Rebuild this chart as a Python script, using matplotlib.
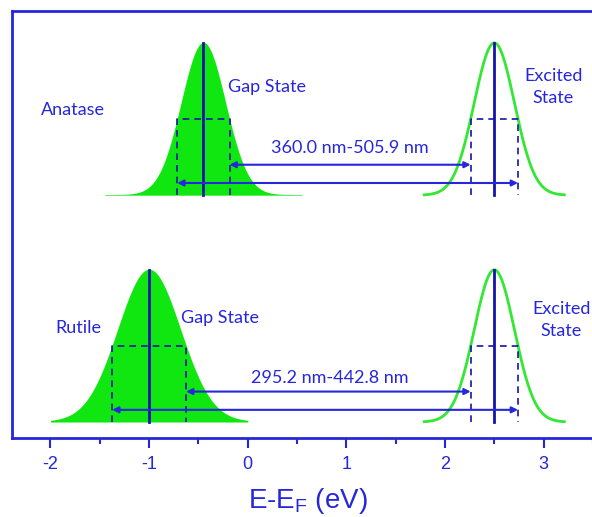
import numpy as np
import matplotlib.pyplot as plt

# ---------------- data ----------------
phases = ['Anatase', 'Rutile']
baselines = [1.49, 0.0]          # vertical offset of each panel
gap_centers = [-0.45, -1.0]      # eV
gap_fwhm = [0.53, 0.75]
gap_halfspan = [1.0, 1.0]
exc_centers = [2.5, 2.5]
exc_fwhm = [0.48, 0.48]
exc_halfspan = [0.71, 0.71]
ranges = ['360.0 nm-505.9 nm', '295.2 nm-442.8 nm']
range_text_x = [1.03, 0.83]
range_text_y = [0.31, 0.29]

BLUE = '#2626dc'
NAVY = '#1414aa'
GREEN = '#10e610'
LGREEN = '#33e833'
LABEL_FONT = ['Lato', 'DejaVu Sans']

plt.rcParams['font.family'] = ['Liberation Sans', 'DejaVu Sans']
plt.rcParams['axes.unicode_minus'] = False

fig = plt.figure(figsize=(5.92, 5.17), dpi=100)
ax = fig.add_axes([0.0203, 0.1528, 0.998, 0.826])
ax.set_xlim(-2.39, 3.6)
ax.set_ylim(-0.105, 2.70)


def gauss(c, fwhm, half):
    s = fwhm / 2.3548
    x = np.linspace(c - half, c + half, 300)
    return x, np.exp(-0.5 * ((x - c) / s) ** 2)


for i, name in enumerate(phases):
    b = baselines[i]
    # gap state (filled)
    x, y = gauss(gap_centers[i], gap_fwhm[i], gap_halfspan[i])
    ax.fill_between(x, b, b + y + 0.004, color=GREEN, lw=0)
    # excited state (outline)
    xe, ye = gauss(exc_centers[i], exc_fwhm[i], exc_halfspan[i])
    ax.plot(xe, b + ye, color=LGREEN, lw=2)

    for c, w in [(gap_centers[i], gap_fwhm[i]), (exc_centers[i], exc_fwhm[i])]:
        ax.plot([c, c], [b, b + 1.0], color=NAVY, lw=2)
        lo, hi = c - w / 2, c + w / 2
        ax.plot([lo, lo, hi, hi], [b, b + 0.5, b + 0.5, b], color=NAVY, lw=1.2,
                ls=(0, (4, 3)))

    g_lo = gap_centers[i] - gap_fwhm[i] / 2
    g_hi = gap_centers[i] + gap_fwhm[i] / 2
    e_lo = exc_centers[i] - exc_fwhm[i] / 2
    e_hi = exc_centers[i] + exc_fwhm[i] / 2
    for (x0, x1, yy) in [(g_hi, e_lo, b + 0.20), (g_lo, e_hi, b + 0.08)]:
        ax.annotate('', xy=(x0, yy), xytext=(x1, yy),
                    arrowprops=dict(arrowstyle='<|-|>', color=BLUE, lw=1.5,
                                    mutation_scale=9, shrinkA=0, shrinkB=0))

    ax.text(range_text_x[i], b + range_text_y[i], ranges[i], color=BLUE,
            fontsize=13, ha='center', va='center', family=LABEL_FONT)

ax.text(-1.77, 2.05, 'Anatase', color=BLUE, fontsize=13, ha='center', va='center',
        family=LABEL_FONT)
ax.text(0.2, 2.2, 'Gap State', color=BLUE, fontsize=13, ha='center', va='center',
        family=LABEL_FONT)
ax.text(3.1, 2.2, 'Excited\nState', color=BLUE, fontsize=13, ha='center', va='center',
        linespacing=1.45, family=LABEL_FONT)
ax.text(-1.72, 0.62, 'Rutile', color=BLUE, fontsize=13, ha='center', va='center',
        family=LABEL_FONT)
ax.text(-0.28, 0.68, 'Gap State', color=BLUE, fontsize=13, ha='center', va='center',
        family=LABEL_FONT)
ax.text(3.18, 0.67, 'Excited\nState', color=BLUE, fontsize=13, ha='center', va='center',
        linespacing=1.45, family=LABEL_FONT)

for s in ax.spines.values():
    s.set_color(BLUE)
    s.set_linewidth(2)

ax.set_xticks([-2, -1, 0, 1, 2, 3])
ax.set_xticks(np.arange(-1.5, 3.6, 1.0), minor=True)
ax.set_yticks([])
ax.tick_params(axis='x', which='major', direction='out', length=7, width=1.5,
               colors=BLUE, labelsize=13, pad=6)
ax.tick_params(axis='x', which='minor', direction='out', length=4, width=1.5,
               colors=BLUE)
ax.set_xlabel('E-E$_\\mathregular{F}$ (eV)', color=BLUE, fontsize=20, labelpad=9)

fig.savefig('out.png', dpi=100)
